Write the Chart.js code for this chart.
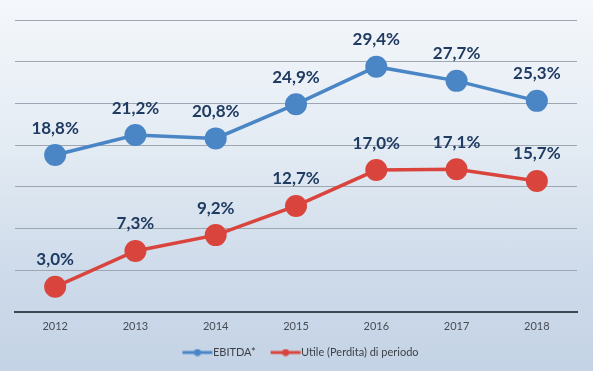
<!DOCTYPE html>
<html><head>
<meta charset="UTF-8">
<script src="https://cdn.jsdelivr.net/npm/chart.js"></script>
<style>
  html, body { margin: 0; padding: 0; }
  #wrap {
    width: 593px; height: 371px; position: relative;
    background: linear-gradient(to bottom, #f4f7fb 0%, #e3ebf3 40%, #cddaea 75%, #c4d3e5 100%);
  }
</style>
</head>
<body>
<div id="wrap"><canvas id="c" width="593" height="371"></canvas></div>
<script>
  // values (percent)
  var years = ['2012', '2013', '2014', '2015', '2016', '2017', '2018'];
  var ebitda = [18.8, 21.2, 20.8, 24.9, 29.4, 27.7, 25.3];
  var utile = [3.0, 7.3, 9.2, 12.7, 17.0, 17.1, 15.7];
  var seriesNames = ['EBITDA*', 'Utile (Perdita) di periodo'];

  var BLUE = '#4a86c6';
  var RED = '#d9453c';

  // line-with-dot icon for the legend (left part transparent, acts as spacing)
  function legendIcon(color) {
    var cv = document.createElement('canvas');
    cv.width = 48; cv.height = 8;
    var g = cv.getContext('2d');
    g.strokeStyle = color; g.lineWidth = 3;
    g.beginPath(); g.moveTo(16, 4); g.lineTo(46, 4); g.stroke();
    g.fillStyle = color;
    g.beginPath(); g.arc(31, 4, 3.5, 0, Math.PI * 2); g.fill();
    return cv;
  }

  // value labels above each point
  var pointLabels = {
    id: 'pointLabels',
    afterDatasetsDraw: function(chart) {
      var ctx = chart.ctx;
      ctx.save();
      ctx.font = 'bold 17px Lato';
      ctx.fillStyle = '#1f3b61';
      ctx.textAlign = 'center';
      ctx.textBaseline = 'middle';
      chart.data.datasets.forEach(function(ds, i) {
        chart.getDatasetMeta(i).data.forEach(function(pt, j) {
          var txt = ds.data[j].toFixed(1).replace('.', ',') + '%';
          ctx.fillText(txt, pt.x, pt.y - 27);
        });
      });
      ctx.restore();
    }
  };

  new Chart(document.getElementById('c'), {
    type: 'line',
    data: {
      labels: years,
      datasets: [
        { label: seriesNames[0], data: ebitda, borderColor: BLUE, backgroundColor: BLUE,
          borderWidth: 3.5, pointRadius: 11, pointHoverRadius: 11, pointBorderWidth: 0,
          pointStyle: 'circle' },
        { label: seriesNames[1], data: utile, borderColor: RED, backgroundColor: RED,
          borderWidth: 3.5, pointRadius: 11, pointHoverRadius: 11, pointBorderWidth: 0,
          pointStyle: 'circle' }
      ]
    },
    options: {
      responsive: false,
      animation: false,
      layout: { padding: { left: 15, right: 16, top: 20, bottom: 3 } },
      scales: {
        x: {
          offset: true,
          grid: { display: false, drawTicks: false },
          border: { display: true, color: '#3f4852', width: 2 },
          ticks: { color: '#474c54', font: { family: 'Lato', size: 11 }, padding: 8 }
        },
        y: {
          min: 0, max: 35,
          ticks: { display: false, stepSize: 5 },
          border: { display: false },
          grid: { color: '#9ea7b1', lineWidth: 1, drawTicks: false }
        }
      },
      plugins: {
        legend: {
          position: 'bottom',
          labels: {
            usePointStyle: true,
            pointStyleWidth: 34,
            color: '#3d4148',
            font: { family: 'Lato', size: 11 },
            padding: 6,
            generateLabels: function(chart) {
              return chart.data.datasets.map(function(ds, i) {
                return {
                  text: ds.label,
                  pointStyle: legendIcon(ds.borderColor),
                  fontColor: '#3d4148',
                  datasetIndex: i,
                  hidden: false,
                  lineWidth: 0
                };
              });
            }
          }
        },
        tooltip: { enabled: false }
      }
    },
    plugins: [pointLabels]
  });
</script>
</body></html>
